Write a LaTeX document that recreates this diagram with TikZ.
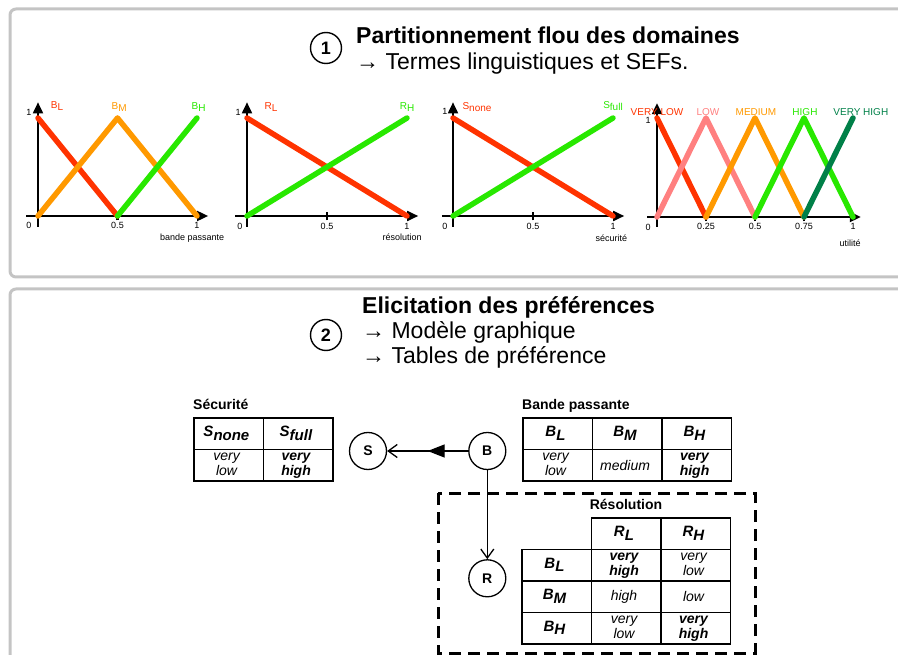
\documentclass[tikz,border=0pt]{standalone}
\usepackage{fontspec}
\setmainfont{Liberation Sans}
\usetikzlibrary{arrows.meta,positioning,matrix,decorations.markings}
\definecolor{mfred}{RGB}{255,51,0}
\definecolor{mforange}{RGB}{255,153,0}
\definecolor{mfgreen}{RGB}{40,232,0}
\definecolor{mfpink}{RGB}{255,128,128}
\definecolor{mfdark}{RGB}{0,128,72}
\definecolor{panelgray}{RGB}{196,196,196}
\newcommand{\lowsub}[1]{\raisebox{-0.45ex}{#1}}
\newcommand{\twoline}[2]{\begin{tabular}{@{}c@{}}#1\\#2\end{tabular}}
\tikzset{
  panel/.style={draw=panelgray, line width=3pt, rounded corners=6pt},
  stepnum/.style={draw, circle, line width=1.4pt, minimum size=31pt, inner sep=0pt, font=\bfseries\fontsize{18}{20}\selectfont},
  headtitle/.style={anchor=base west, inner sep=0pt, font=\bfseries\fontsize{23}{26}\selectfont},
  headline/.style={anchor=base west, inner sep=0pt, font=\fontsize{23}{26}\selectfont},
  plotaxis/.style={line width=1.8pt, -{Triangle[length=11pt,width=10pt]}},
  tickmark/.style={line width=2.5pt},
  mf/.style={line width=5.5pt, line cap=round, line join=round},
  mflabel/.style={anchor=base, inner sep=0pt, font=\fontsize{10}{12}\selectfont},
  num/.style={inner sep=0pt, font=\fontsize{9}{10}\selectfont},
  var/.style={draw, circle, line width=1.3pt, minimum size=37pt, inner sep=0pt, font=\bfseries\fontsize{14}{16}\selectfont},
  link/.style={line width=1.3pt, -{Straight Barb[length=9pt,width=13pt]}},
  midtri/.style={postaction={decorate}, decoration={markings, mark=at position 0.5 with {\arrow{Triangle[length=17pt,width=13pt]}}}},
  cell/.style={draw, line width=1.5pt, minimum width=69.5pt, minimum height=31.5pt, inner sep=0pt, align=center, anchor=center, font=\itshape\fontsize{14}{15}\selectfont},
  hdr/.style={font=\bfseries\itshape\fontsize{15}{15}\selectfont},
  strong/.style={font=\bfseries\itshape\fontsize{14}{15}\selectfont},
  preftable/.style={matrix of nodes, inner sep=0pt, outer sep=0pt, column sep=-1.5pt, row sep=-1.5pt, nodes={cell}},
  tabtitle/.style={inner sep=0pt, text depth=0pt, font=\bfseries\fontsize{14}{16}\selectfont},
  frame/.style={draw, line width=3pt, dash pattern=on 12pt off 7pt}
}
\begin{document}
\begin{tikzpicture}[x=1pt, y=-1pt]
  \useasboundingbox (0,0) rectangle (898,655);
  % the two panels
  \draw[panel] (10,9) rectangle (930,277);
  \draw[panel] (10,289) rectangle (930,690);

  % step 1: fuzzy partitions
  \node[stepnum] (one) at (326,48) {1};
  \node[headtitle] (parttitle) at (356,44) {Partitionnement flou des domaines};
  \node[headline] (partsub) at (356,70) {→ Termes linguistiques et SEFs.};

  % bandwidth
  \begin{scope}[shift={(38,216)}, x=159pt, y=98pt]
    \draw[plotaxis] (-0.075,0) -- (1.07,0);
    \draw[plotaxis] (0,-0.11) -- (0,1.16);
    \draw[tickmark] (0.5,-0.045) -- (0.5,0.045);
    \draw[mf, mfred] (0,1) -- (0.5,0);
    \draw[mf, mforange] (0,0) -- (0.5,1) -- (1,0);
    \draw[mf, mfgreen] (0.5,0) -- (1,1);
    \node[mflabel, text=mfred] (bl) at (0.12,1.1) {B\lowsub{L}};
    \node[mflabel, text=mforange] (bm) at (0.51,1.09) {B\lowsub{M}};
    \node[mflabel, text=mfgreen] (bh) at (1.01,1.09) {B\lowsub{H}};
    \node[num] (bwtop) at (-0.057,1.06) {1};
    \node[num] (bwzero) at (-0.057,-0.1) {0};
    \node[num] (bwhalf) at (0.5,-0.1) {0.5};
    \node[num] (bwone) at (1,-0.1) {1};
    \node[num] (bwname) at (0.97,-0.23) {bande passante};
  \end{scope}

  % resolution
  \begin{scope}[shift={(247,216)}, x=160pt, y=98pt]
    \draw[plotaxis] (-0.075,0) -- (1.07,0);
    \draw[plotaxis] (0,-0.11) -- (0,1.16);
    \draw[tickmark] (0.5,-0.045) -- (0.5,0.045);
    \draw[mf, mfred] (0,1) -- (1,0);
    \draw[mf, mfgreen] (0,0) -- (1,1);
    \node[mflabel, text=mfred] (rl) at (0.15,1.09) {R\lowsub{L}};
    \node[mflabel, text=mfgreen] (rh) at (1,1.09) {R\lowsub{H}};
    \node[num] (rstop) at (-0.055,1.06) {1};
    \node[num] (rszero) at (-0.045,-0.11) {0};
    \node[num] (rshalf) at (0.5,-0.11) {0.5};
    \node[num] (rsone) at (1,-0.11) {1};
    \node[num] (rsname) at (0.97,-0.22) {résolution};
  \end{scope}

  % security
  \begin{scope}[shift={(453,216)}, x=160pt, y=98pt]
    \draw[plotaxis] (-0.07,0) -- (1.07,0);
    \draw[plotaxis] (0,-0.11) -- (0,1.16);
    \draw[tickmark] (0.5,-0.045) -- (0.5,0.045);
    \draw[mf, mfred] (0,1) -- (1,0);
    \draw[mf, mfgreen] (0,0) -- (1,1);
    \node[mflabel, text=mfred] (snone) at (0.15,1.09) {S\lowsub{none}};
    \node[mflabel, text=mfgreen] (sfull) at (1,1.1) {S\lowsub{full}};
    \node[num] (sctop) at (-0.05,1.07) {1};
    \node[num] (sczero) at (-0.05,-0.11) {0};
    \node[num] (schalf) at (0.5,-0.11) {0.5};
    \node[num] (scone) at (1,-0.11) {1};
    \node[num] (scname) at (0.99,-0.23) {sécurité};
  \end{scope}

  % utility
  \begin{scope}[shift={(657,217)}, x=196pt, y=99pt]
    \draw[plotaxis] (-0.05,0) -- (1.04,0);
    \draw[plotaxis] (0,-0.1) -- (0,1.15);
    \foreach \t in {0.25,0.5,0.75}
      \draw[tickmark] (\t,-0.045) -- (\t,0.045);
    \draw[mf, mfred] (0,1) -- (0.25,0);
    \draw[mf, mfpink] (0,0) -- (0.25,1) -- (0.5,0);
    \draw[mf, mforange] (0.25,0) -- (0.5,1) -- (0.75,0);
    \draw[mf, mfgreen] (0.5,0) -- (0.75,1) -- (1,0);
    \draw[mf, mfdark] (0.75,0) -- (1,1);
    \node[mflabel, text=mfred] (vlow) at (0,1.03) {VERY LOW};
    \node[mflabel, text=mfpink] (low) at (0.26,1.03) {LOW};
    \node[mflabel, text=mforange] (medium) at (0.505,1.03) {MEDIUM};
    \node[mflabel, text=mfgreen] (high) at (0.755,1.03) {HIGH};
    \node[mflabel, text=mfdark] (vhigh) at (1.04,1.03) {VERY HIGH};
    \node[num] (uttop) at (-0.045,0.98) {1};
    \node[num] (utzero) at (-0.045,-0.11) {0};
    \foreach \v [count=\i] in {0.25,0.5,0.75,1}
      \node[num] (ut\i) at (\v,-0.1) {\v};
    \node[num] (utname) at (0.985,-0.26) {utilité};
  \end{scope}

  % step 2: preferences
  \node[stepnum] (two) at (326,335) {2};
  \node[headtitle] (elictitle) at (362,314) {Elicitation des préférences};
  \node[headline] (elicgraph) at (362,339) {→ Modèle graphique};
  \node[headline] (elictables) at (362,364) {→ Tables de préférence};

  % graphical model
  \node[var] (s) at (368,451) {S};
  \node[var, right=81pt of s] (b) {B};
  \node[var, below=89pt of b] (r) {R};
  \draw[link, midtri] (b) -- (s);
  \draw[link] (b) -- (r);

  % preference tables
  \matrix[preftable, anchor=north west] (sec) at (193,417) {
    |[hdr]| S\lowsub{none} & |[hdr]| S\lowsub{full} \\
    \twoline{very}{low} & |[strong]| \twoline{very}{high} \\
  };
  \node[tabtitle, above right=7pt and 0pt of sec.north west] (sectitle) {Sécurité};

  \matrix[preftable, anchor=north west] (band) at (522,417) {
    |[hdr]| B\lowsub{L} & |[hdr]| B\lowsub{M} & |[hdr]| B\lowsub{H} \\
    \twoline{very}{low} & medium & |[strong]| \twoline{very}{high} \\
  };
  \node[tabtitle, above right=7pt and 0pt of band.north west] (bandtitle) {Bande passante};

  \matrix[preftable, anchor=north west] (res) at (521,517) {
    & |[hdr]| R\lowsub{L} & |[hdr]| R\lowsub{H} \\
    |[hdr]| B\lowsub{L} & |[strong]| \twoline{very}{high} & \twoline{very}{low} \\
    |[hdr]| B\lowsub{M} & high & low \\
    |[hdr]| B\lowsub{H} & \twoline{very}{low} & |[strong]| \twoline{very}{high} \\
  };
  \node[tabtitle, above=7pt of res.north] (restitle) {Résolution};

  % conditional part
  \draw[frame] (438,493) rectangle (755,653);
\end{tikzpicture}
\end{document}
